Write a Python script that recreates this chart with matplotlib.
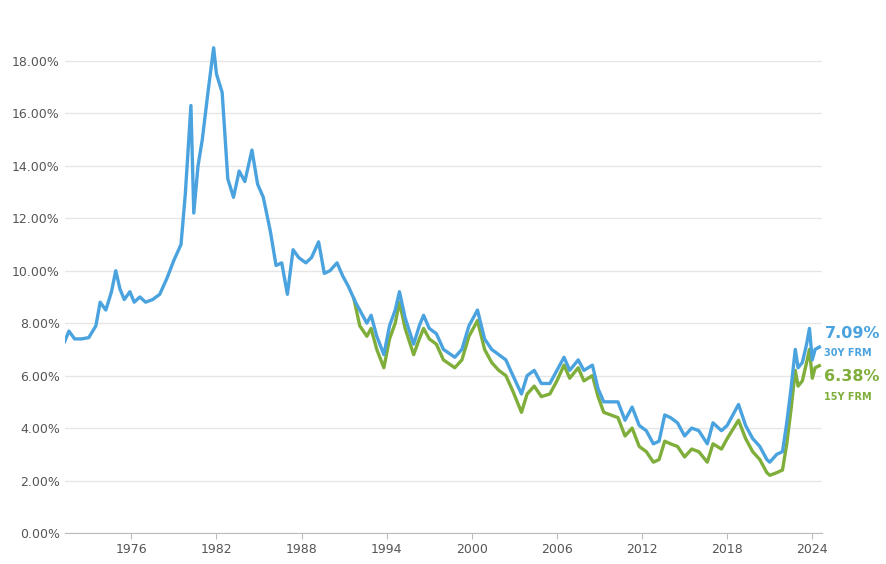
import matplotlib.pyplot as plt

years_30 = [1971.3, 1971.6, 1972.0, 1972.5, 1973.0, 1973.5, 1973.8, 1974.2, 1974.6, 1974.9,
            1975.2, 1975.5, 1975.9, 1976.2, 1976.6, 1977.0, 1977.5, 1978.0, 1978.5, 1979.0,
            1979.5, 1979.8, 1980.2, 1980.4, 1980.7, 1981.0, 1981.4, 1981.8, 1982.0, 1982.4,
            1982.8, 1983.2, 1983.6, 1984.0, 1984.5, 1984.9, 1985.3, 1985.8, 1986.2, 1986.6,
            1987.0, 1987.4, 1987.8, 1988.3, 1988.7, 1989.2, 1989.6, 1990.0, 1990.5, 1990.9,
            1991.3, 1991.8, 1992.1, 1992.6, 1992.9, 1993.3, 1993.8, 1994.2, 1994.6, 1994.9,
            1995.3, 1995.9, 1996.3, 1996.6, 1997.0, 1997.5, 1998.0, 1998.8, 1999.3, 1999.8,
            2000.4, 2000.9, 2001.4, 2001.9, 2002.4, 2002.9, 2003.5, 2003.9, 2004.4, 2004.9,
            2005.5, 2006.0, 2006.5, 2006.9, 2007.5, 2007.9, 2008.5, 2008.9, 2009.3, 2009.8,
            2010.3, 2010.8, 2011.3, 2011.8, 2012.3, 2012.8, 2013.2, 2013.6, 2014.0, 2014.5,
            2015.0, 2015.5, 2016.0, 2016.6, 2017.0, 2017.6, 2018.0, 2018.8, 2019.3, 2019.8,
            2020.3, 2020.8, 2021.0, 2021.5, 2021.9, 2022.2, 2022.5, 2022.8, 2023.0, 2023.3,
            2023.6, 2023.8, 2024.0, 2024.2, 2024.5]
rate_30 = [7.3, 7.7, 7.4, 7.4, 7.45, 7.9, 8.8, 8.5, 9.2, 10.0,
           9.3, 8.9, 9.2, 8.8, 9.0, 8.8, 8.9, 9.1, 9.7, 10.4,
           11.0, 12.9, 16.3, 12.2, 14.0, 15.0, 16.8, 18.5, 17.5, 16.8,
           13.5, 12.8, 13.8, 13.4, 14.6, 13.3, 12.8, 11.5, 10.2, 10.3,
           9.1, 10.8, 10.5, 10.3, 10.5, 11.1, 9.9, 10.0, 10.3, 9.8,
           9.4, 8.8, 8.5, 8.0, 8.3, 7.5, 6.8, 7.9, 8.5, 9.2,
           8.2, 7.2, 7.9, 8.3, 7.8, 7.6, 7.0, 6.7, 7.0, 7.9,
           8.5, 7.4, 7.0, 6.8, 6.6, 6.0, 5.3, 6.0, 6.2, 5.7,
           5.7, 6.2, 6.7, 6.2, 6.6, 6.2, 6.4, 5.5, 5.0, 5.0,
           5.0, 4.3, 4.8, 4.1, 3.9, 3.4, 3.5, 4.5, 4.4, 4.2,
           3.7, 4.0, 3.9, 3.4, 4.2, 3.9, 4.1, 4.9, 4.1, 3.6,
           3.3, 2.8, 2.7, 3.0, 3.1, 4.2, 5.5, 7.0, 6.3, 6.5,
           7.2, 7.8, 6.6, 7.0, 7.09]

years_15 = [1991.7, 1992.1, 1992.6, 1992.9, 1993.3, 1993.8, 1994.2, 1994.6, 1994.9,
            1995.3, 1995.9, 1996.3, 1996.6, 1997.0, 1997.5, 1998.0, 1998.8, 1999.3, 1999.8,
            2000.4, 2000.9, 2001.4, 2001.9, 2002.4, 2002.9, 2003.5, 2003.9, 2004.4, 2004.9,
            2005.5, 2006.0, 2006.5, 2006.9, 2007.5, 2007.9, 2008.5, 2008.9, 2009.3, 2009.8,
            2010.3, 2010.8, 2011.3, 2011.8, 2012.3, 2012.8, 2013.2, 2013.6, 2014.0, 2014.5,
            2015.0, 2015.5, 2016.0, 2016.6, 2017.0, 2017.6, 2018.0, 2018.8, 2019.3, 2019.8,
            2020.3, 2020.8, 2021.0, 2021.5, 2021.9, 2022.2, 2022.5, 2022.8, 2023.0, 2023.3,
            2023.6, 2023.8, 2024.0, 2024.2, 2024.5]
rate_15 = [8.9, 7.9, 7.5, 7.8, 7.0, 6.3, 7.4, 8.0, 8.8,
           7.8, 6.8, 7.4, 7.8, 7.4, 7.2, 6.6, 6.3, 6.6, 7.5,
           8.1, 7.0, 6.5, 6.2, 6.0, 5.4, 4.6, 5.3, 5.6, 5.2,
           5.3, 5.8, 6.4, 5.9, 6.3, 5.8, 6.0, 5.2, 4.6, 4.5,
           4.4, 3.7, 4.0, 3.3, 3.1, 2.7, 2.8, 3.5, 3.4, 3.3,
           2.9, 3.2, 3.1, 2.7, 3.4, 3.2, 3.6, 4.3, 3.6, 3.1,
           2.8, 2.3, 2.2, 2.3, 2.4, 3.4, 4.7, 6.2, 5.6, 5.8,
           6.5, 7.0, 5.9, 6.3, 6.38]

yticks = [0, 2, 4, 6, 8, 10, 12, 14, 16, 18]
xticks = [1976, 1982, 1988, 1994, 2000, 2006, 2012, 2018, 2024]

blue = '#4aa3df'
green = '#7fae3b'

fig = plt.figure(figsize=(8.86, 5.64), dpi=100)
ax = fig.add_axes([0.073, 0.055, 0.855, 0.93])
ax.plot(years_15, rate_15, color=green, lw=2.4)
ax.plot(years_30, rate_30, color=blue, lw=2.4)

ax.set_xlim(1971.3, 2024.7)
ax.set_ylim(0, 20)
ax.set_yticks(yticks)
ax.set_yticklabels([f"{v:.2f}%" for v in yticks])
ax.set_xticks(xticks)
ax.tick_params(colors='#555555', labelsize=9, length=0)
ax.tick_params(axis='x', length=4, color='#bbbbbb')
ax.grid(axis='y', color='#e6e6e6', lw=1)
ax.set_axisbelow(True)
for s in ['top', 'right', 'left']:
    ax.spines[s].set_visible(False)
ax.spines['bottom'].set_color('#bbbbbb')

tr = ax.get_yaxis_transform()
ax.text(1.003, 7.6, "7.09%", transform=tr, color=blue, fontsize=11.5, fontweight='bold', va='center')
ax.text(1.003, 6.85, "30Y FRM", transform=tr, color=blue, fontsize=7, fontweight='bold', va='center')
ax.text(1.003, 5.95, "6.38%", transform=tr, color=green, fontsize=11.5, fontweight='bold', va='center')
ax.text(1.003, 5.2, "15Y FRM", transform=tr, color=green, fontsize=7, fontweight='bold', va='center')

fig.savefig('out.png', dpi=100)
